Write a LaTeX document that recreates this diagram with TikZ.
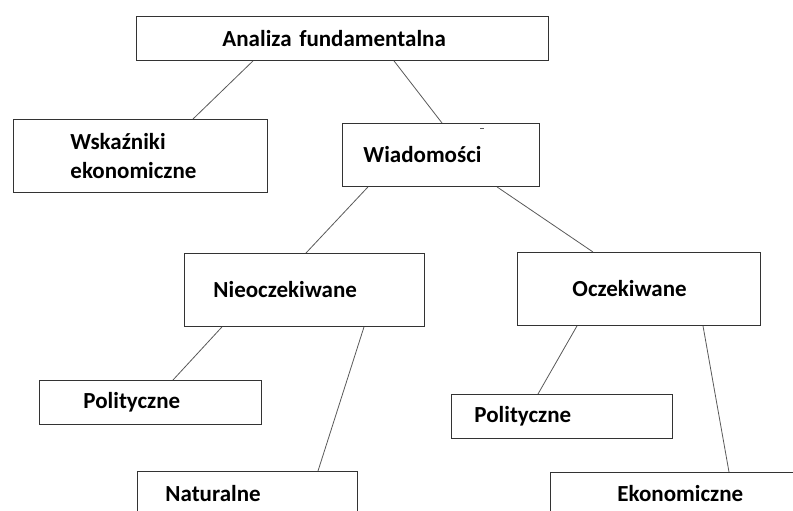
\documentclass[tikz,border=0pt]{standalone}
\usepackage{fontspec}
\setmainfont{Carlito}
\usepackage{tikz}

\tikzset{
  box/.style={draw=black!80, line width=0.9pt, rectangle, anchor=north west,
    align=left, inner ysep=0pt, font=\bfseries\fontsize{23}{29}\selectfont},
  link/.style={draw=black!65, line width=0.8pt}
}

\begin{document}
\begin{tikzpicture}[x=1pt, y=-1pt]
    \useasboundingbox (0, 0) rectangle (793, 511);

    % boxes
    \node [box, minimum height=44pt, inner xsep=86pt, text width=240pt] (analiza) at (136, 16) {Analiza fundamentalna};
    \node [box, minimum height=73pt, inner xsep=57pt, text width=140pt] (wskazniki) at (13, 119) {Wskaźniki\\ekonomiczne};
    \node [box, minimum height=63pt, inner xsep=21pt, text width=155pt] (wiad) at (342, 123) {Wiadomości};
    \node [box, minimum height=73pt, inner xsep=29pt, text width=182pt] (nieocz) at (184, 253) {Nieoczekiwane};
    \node [box, minimum height=73pt, inner xsep=55pt, text width=133pt] (ocz) at (517, 252) {Oczekiwane};
    \node [box, minimum height=44pt, inner xsep=44pt, text width=134pt] (polL) at (39, 380) {Polityczne};
    \node [box, minimum height=44pt, inner xsep=28pt, text width=164pt] (natur) at (137, 471) {Naturalne};
    \node [box, minimum height=44pt, inner xsep=23pt, text width=175pt] (polR) at (451, 394) {Polityczne};
    \node [box, minimum height=42pt, inner xsep=67pt, text width=146pt] (ekon) at (550, 472) {Ekonomiczne};

    % connectors
    \draw [link] ([xshift=117pt]analiza.south west) -- ([xshift=180pt]wskazniki.north west);
    \draw [link] ([xshift=258pt]analiza.south west) -- ([xshift=100pt]wiad.north west);
    \draw [link] ([xshift=26pt]wiad.south west) -- ([xshift=122pt]nieocz.north west);
    \draw [link] ([xshift=155pt]wiad.south west) -- ([xshift=76pt]ocz.north west);
    \draw [link] ([xshift=38pt]nieocz.south west) -- ([xshift=134pt]polL.north west);
    \draw [link] ([xshift=180pt]nieocz.south west) -- ([xshift=181pt]natur.north west);
    \draw [link] ([xshift=60pt]ocz.south west) -- ([xshift=87pt]polR.north west);
    \draw [link] ([xshift=186pt]ocz.south west) -- ([xshift=179pt]ekon.north west);

    \draw [link] (480, 128) -- (484, 128);
\end{tikzpicture}
\end{document}
